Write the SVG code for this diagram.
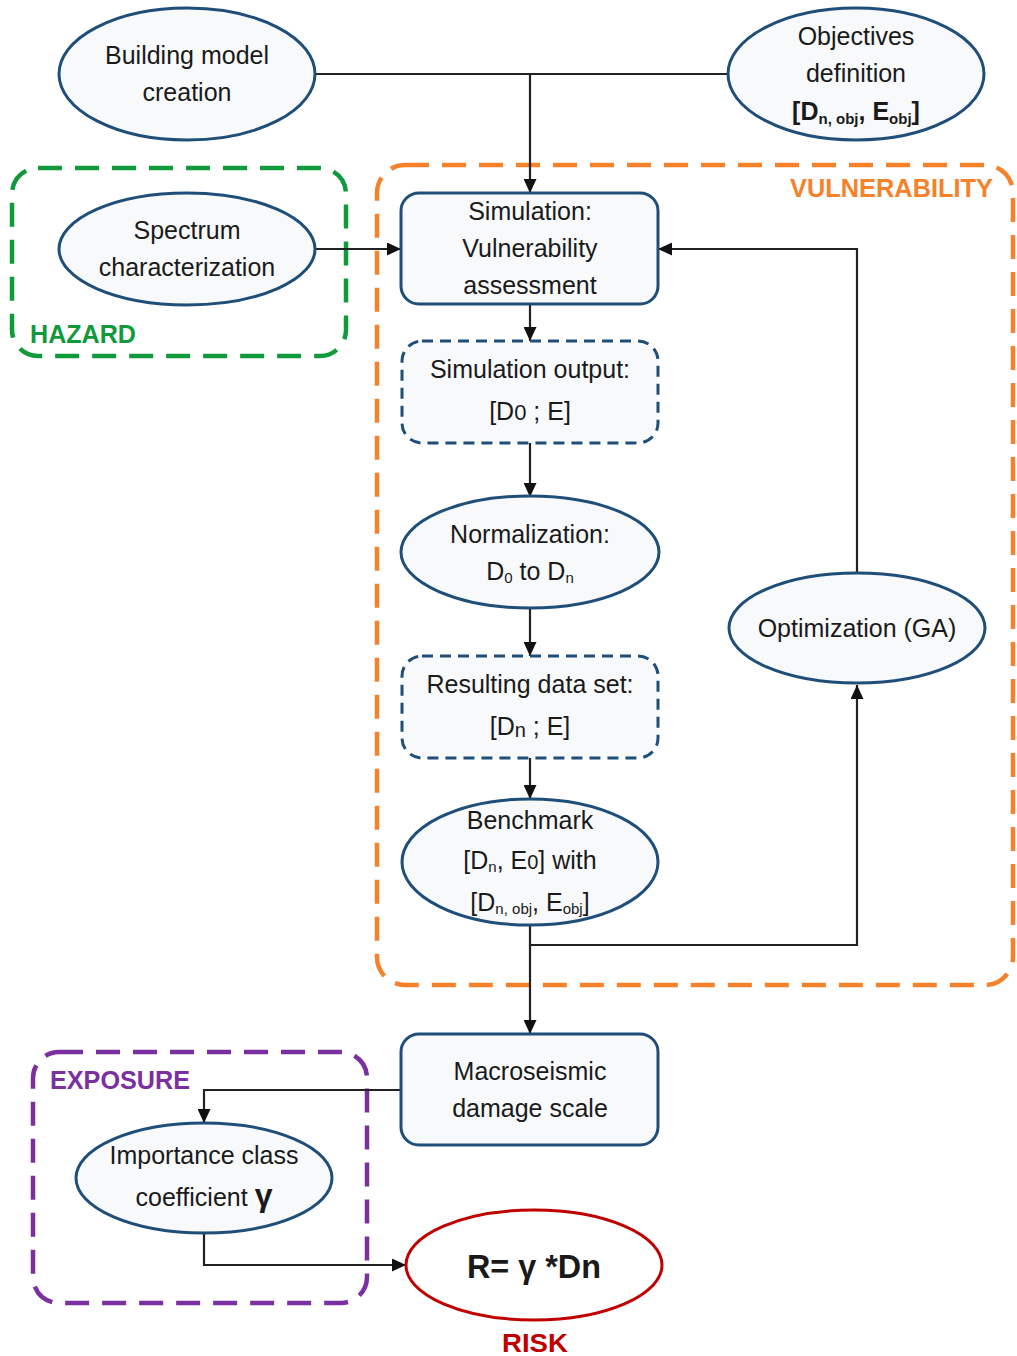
<svg xmlns="http://www.w3.org/2000/svg" width="1017" height="1356" viewBox="0 0 1017 1356">
<defs>
<marker id="arr" viewBox="0 0 14 13" refX="14" refY="6.5" markerWidth="14" markerHeight="13" markerUnits="userSpaceOnUse" orient="auto">
<path d="M0,0 L14,6.5 L0,13 z" fill="#111"/>
</marker>
<style>
.node{fill:#f8f9fb;stroke:#1f4e79;stroke-width:3}
.dnode{fill:#f8f9fb;stroke:#1f4e79;stroke-width:3;stroke-dasharray:11 7}
.risk{fill:#ffffff;stroke:#c00000;stroke-width:3}
.t{font-family:"Liberation Sans",Arial,sans-serif;font-size:25px;fill:#1a1a1a;text-anchor:middle}
.sub{font-size:15px}
.conn{fill:none;stroke:#222;stroke-width:2.2}
.grp{fill:none;stroke-width:4.5;stroke-dasharray:24 13}
.lbl{font-family:"Liberation Sans",Arial,sans-serif;font-size:26px;font-weight:bold}
</style>
</defs>
<rect width="1017" height="1356" fill="#ffffff"/>

<g id="groups">
<rect class="grp" x="12" y="168" width="334" height="188" rx="26" stroke="#119a3c"/>
<text class="lbl" x="30" y="343" fill="#119a3c" textLength="106" lengthAdjust="spacingAndGlyphs">HAZARD</text>
<rect class="grp" x="377" y="165" width="636" height="820" rx="28" stroke="#f5822a"/>
<text class="lbl" x="790" y="197" fill="#f5822a" textLength="203" lengthAdjust="spacingAndGlyphs">VULNERABILITY</text>
<rect class="grp" x="33" y="1052" width="334" height="251" rx="26" stroke="#7a30a0"/>
<text class="lbl" x="50" y="1089" fill="#7a30a0" textLength="140" lengthAdjust="spacingAndGlyphs">EXPOSURE</text>
<text class="lbl" x="535" y="1352" fill="#c00000" text-anchor="middle" textLength="66" lengthAdjust="spacingAndGlyphs">RISK</text>
</g>

<g id="connectors">
<path class="conn" d="M315,74 H728"/>
<path class="conn" d="M530,74 V193" marker-end="url(#arr)"/>
<path class="conn" d="M315,249 H401" marker-end="url(#arr)"/>
<path class="conn" d="M530,304 V341" marker-end="url(#arr)"/>
<path class="conn" d="M530,443 V497" marker-end="url(#arr)"/>
<path class="conn" d="M530,608 V656" marker-end="url(#arr)"/>
<path class="conn" d="M530,758 V799" marker-end="url(#arr)"/>
<path class="conn" d="M857,573 V249 H658" marker-end="url(#arr)"/>
<path class="conn" d="M530,926 V945 H857 V685" marker-end="url(#arr)"/>
<path class="conn" d="M530,945 V1034" marker-end="url(#arr)"/>
<path class="conn" d="M401,1090 H204 V1123" marker-end="url(#arr)"/>
<path class="conn" d="M204,1234 V1265 H406" marker-end="url(#arr)"/>
</g>

<g id="building">
<ellipse class="node" cx="187" cy="74" rx="128" ry="66"/>
<text class="t" x="187" y="64">Building model</text>
<text class="t" x="187" y="101">creation</text>
</g>

<g id="objectives">
<ellipse class="node" cx="856" cy="74" rx="128" ry="66"/>
<text class="t" x="856" y="45">Objectives</text>
<text class="t" x="856" y="82">definition</text>
<text class="t" x="856" y="120" font-weight="bold">[D<tspan class="sub" dy="4">n, obj</tspan><tspan dy="-4">, E</tspan><tspan class="sub" dy="4">obj</tspan><tspan dy="-4">]</tspan></text>
</g>

<g id="spectrum">
<ellipse class="node" cx="187" cy="249" rx="128" ry="56"/>
<text class="t" x="187" y="239">Spectrum</text>
<text class="t" x="187" y="276">characterization</text>
</g>

<g id="simulation">
<rect class="node" x="401" y="193" width="257" height="111" rx="18"/>
<text class="t" x="530" y="220">Simulation:</text>
<text class="t" x="530" y="257">Vulnerability</text>
<text class="t" x="530" y="294">assessment</text>
</g>

<g id="simoutput">
<rect class="dnode" x="402" y="341" width="256" height="102" rx="20"/>
<text class="t" x="530" y="378">Simulation output:</text>
<text class="t" x="530" y="420">[D<tspan font-size="22">0</tspan> ; E]</text>
</g>

<g id="normalization">
<ellipse class="node" cx="530" cy="552" rx="129" ry="56"/>
<text class="t" x="530" y="543">Normalization:</text>
<text class="t" x="530" y="580">D<tspan class="sub" dy="3">0</tspan><tspan dy="-3"> to D</tspan><tspan class="sub" dy="3">n</tspan></text>
</g>

<g id="resulting">
<rect class="dnode" x="402" y="656" width="256" height="102" rx="20"/>
<text class="t" x="530" y="693">Resulting data set:</text>
<text class="t" x="530" y="735">[D<tspan font-size="20" dy="2">n</tspan><tspan dy="-2"> ; E]</tspan></text>
</g>

<g id="benchmark">
<ellipse class="node" cx="530" cy="862" rx="128" ry="63"/>
<text class="t" x="530" y="829">Benchmark</text>
<text class="t" x="530" y="869">[D<tspan class="sub" dy="3">n</tspan><tspan dy="-3">, E</tspan><tspan font-size="20">0</tspan>] with</text>
<text class="t" x="530" y="911">[D<tspan class="sub" dy="3">n, obj</tspan><tspan dy="-3">, E</tspan><tspan class="sub" dy="3">obj</tspan><tspan dy="-3">]</tspan></text>
</g>

<g id="optimization">
<ellipse class="node" cx="857" cy="628" rx="128" ry="55"/>
<text class="t" x="857" y="637">Optimization (GA)</text>
</g>

<g id="macroseismic">
<rect class="node" x="401" y="1034" width="257" height="111" rx="18"/>
<text class="t" x="530" y="1080">Macroseismic</text>
<text class="t" x="530" y="1117">damage scale</text>
</g>

<g id="importance">
<ellipse class="node" cx="204" cy="1178" rx="128" ry="55"/>
<text class="t" x="204" y="1164">Importance class</text>
<text class="t" x="204" y="1206">coefficient <tspan font-size="32" font-weight="bold">γ</tspan></text>
</g>

<g id="risk">
<ellipse class="risk" cx="534" cy="1265" rx="128" ry="55"/>
<text class="t" x="534" y="1278" font-weight="bold" style="font-size:34px" textLength="134" lengthAdjust="spacingAndGlyphs">R= γ *Dn</text>
</g>
</svg>
